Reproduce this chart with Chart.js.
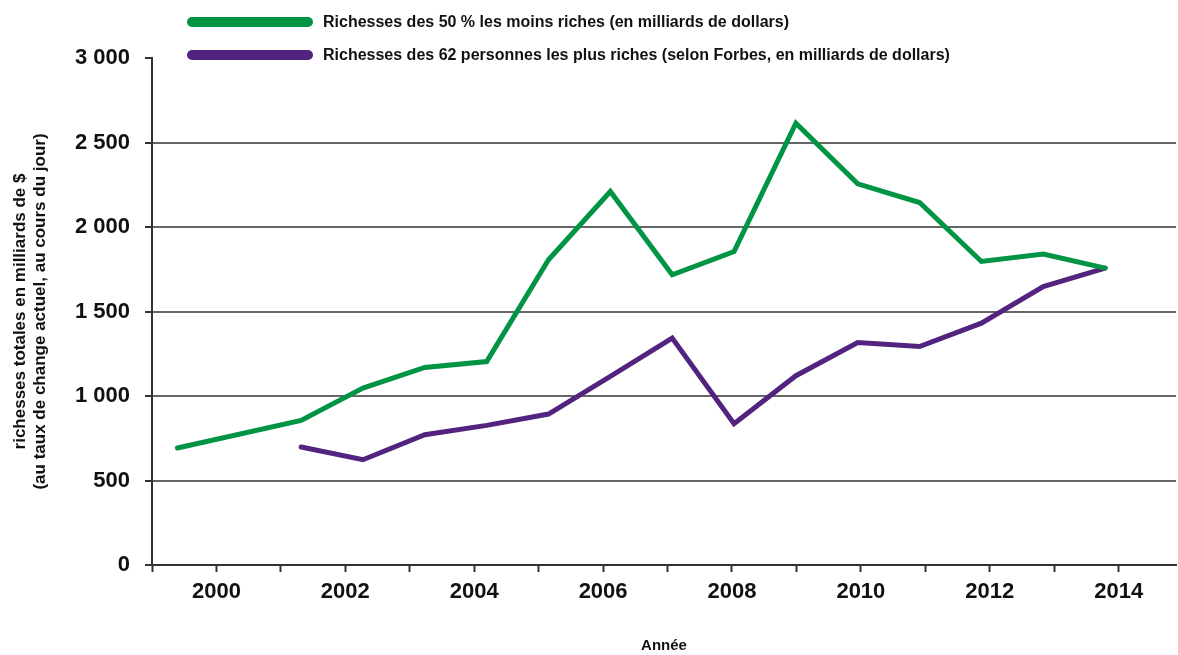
<!DOCTYPE html>
<html lang="fr">
<head>
<meta charset="utf-8">
<title>Richesses</title>
<script src="https://cdn.jsdelivr.net/npm/chart.js@4.4.1/dist/chart.umd.min.js"></script>
<style>
    body { margin: 0; background: #fff; }
    #wrap { position: relative; width: 1178px; height: 655px; font-family: "Liberation Sans", Arial, sans-serif; }
    .leg { position: absolute; left: 187px; height: 20px; display: flex; align-items: center; }
    .leg .sw { width: 126px; height: 10px; border-radius: 5px; margin-right: 10px; }
    .leg span { font-size: 16px; font-weight: bold; color: #111; white-space: nowrap; }
</style>
</head>
<body>
<div id="wrap">
    <canvas id="chart"></canvas>
    <div class="leg" style="top:12px"><div class="sw" style="background:#009444"></div><span id="lab0"></span></div>
    <div class="leg" style="top:45px"><div class="sw" style="background:#52247f"></div><span id="lab1"></span></div>
</div>
<script>
const years = [2000, 2001, 2002, 2003, 2004, 2005, 2006, 2007, 2008, 2009, 2010, 2011, 2012, 2013, 2014, 2015];
const poorest50 = [692, null, 855, 1047, 1169, 1204, 1806, 2210, 1717, 1855, 2614, 2255, 2145, 1796, 1840, 1757];
const richest62 = [null, null, 698, 623, 771, 826, 893, 1116, 1343, 836, 1120, 1317, 1293, 1431, 1648, 1757];
const seriesNames = [
    'Richesses des 50 % les moins riches (en milliards de dollars)',
    'Richesses des 62 personnes les plus riches (selon Forbes, en milliards de dollars)'
];
const yTicks = [0, 500, 1000, 1500, 2000, 2500, 3000];
const xLabelYears = [2000, 2002, 2004, 2006, 2008, 2010, 2012, 2014];

document.getElementById('lab0').textContent = seriesNames[0];
document.getElementById('lab1').textContent = seriesNames[1];

const toPoints = (vals) => years.map((y, i) => ({ x: y, y: vals[i] }));
const fmt = (v) => String(v).replace(/\B(?=(\d{3})+(?!\d))/g, ' ');
const font = (size, weight) => ({ family: '"Liberation Sans", Arial, sans-serif', size: size, weight: weight });

new Chart(document.getElementById('chart'), {
    type: 'line',
    data: {
        datasets: [
            { label: seriesNames[0], data: toPoints(poorest50), borderColor: '#009444', xAxisID: 'x' },
            { label: seriesNames[1], data: toPoints(richest62), borderColor: '#52247f', xAxisID: 'x' }
        ]
    },
    options: {
        responsive: true,
        maintainAspectRatio: false,
        animation: false,
        spanGaps: true,
        layout: { padding: { top: 58, right: 2, bottom: 0, left: 0 } },
        elements: {
            line: { borderWidth: 5, tension: 0, borderCapStyle: 'round', borderJoinStyle: 'miter' },
            point: { radius: 0, hoverRadius: 0 }
        },
        plugins: { legend: { display: false }, tooltip: { enabled: false } },
        scales: {
            x: {
                type: 'linear',
                display: false,
                min: 1999.589,
                max: 2016.146
            },
            xt: {
                type: 'linear',
                position: 'bottom',
                min: 1999,
                max: 2014.89,
                afterFit: (s) => { s.height = 90; },
                border: { display: true, color: '#333', width: 2 },
                grid: { drawOnChartArea: false, drawTicks: true, tickLength: 7, tickColor: '#333', tickWidth: 2 },
                ticks: {
                    stepSize: 1,
                    includeBounds: false,
                    autoSkip: false,
                    maxRotation: 0,
                    padding: 7,
                    color: '#111',
                    font: font(22, 'bold'),
                    callback: (v) => xLabelYears.includes(v) ? String(v) : ''
                },
                title: { display: true, text: 'Année', color: '#111', font: font(15, 'bold'), padding: { top: 0, bottom: 0 } }
            },
            y: {
                min: yTicks[0],
                max: yTicks[yTicks.length - 1],
                afterFit: (s) => { s.width = 152; },
                afterBuildTicks: (s) => { s.ticks = yTicks.map(v => ({ value: v })); },
                border: { display: true, color: '#333', width: 2 },
                grid: {
                    color: (c) => (c.tick && c.tick.value > 0 && c.tick.value < 3000) ? '#666' : 'rgba(0,0,0,0)',
                    lineWidth: 2,
                    tickLength: 7,
                    tickColor: '#333',
                    tickWidth: 2
                },
                ticks: { padding: 15, color: '#111', font: font(22, 'bold'), callback: (v) => fmt(v) },
                title: {
                    display: true,
                    text: ['richesses totales en milliards de $', '(au taux de change actuel, au cours du jour)'],
                    color: '#111',
                    font: { family: '"Liberation Sans", Arial, sans-serif', size: 17, weight: 'bold', lineHeight: 1.18 },
                    padding: { top: 10, bottom: 0 }
                }
            }
        }
    }
});
</script>
</body>
</html>
